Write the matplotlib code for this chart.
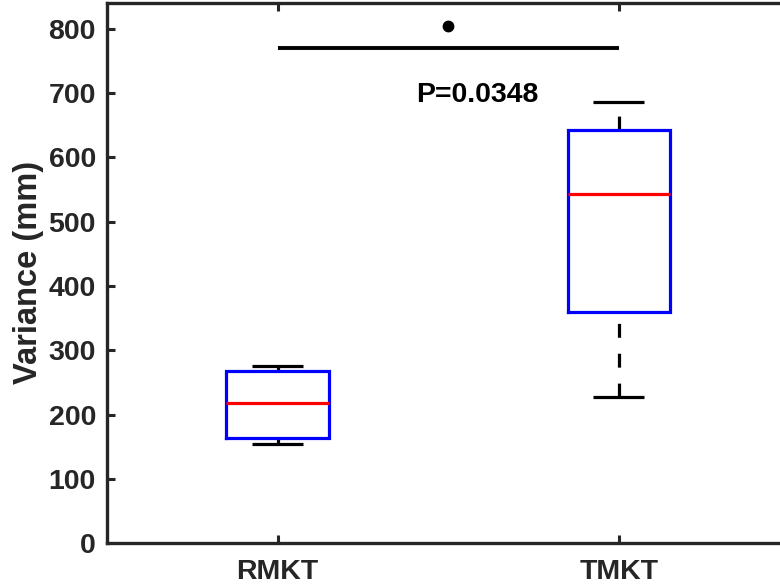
import matplotlib
matplotlib.use("Agg")
import matplotlib.pyplot as plt

plt.rcParams['font.family'] = ['Liberation Sans', 'DejaVu Sans']
plt.rcParams['font.weight'] = 'bold'
plt.rcParams['lines.scale_dashes'] = False

# ---- data ----
groups = ["RMKT", "TMKT"]
positions = [1, 2]
whisker_low = [155, 227]
q1 = [164, 359]
median = [218, 543]
q3 = [268, 642]
whisker_high = [276, 686]
ylabel = "Variance (mm)"
yticks = [0, 100, 200, 300, 400, 500, 600, 700, 800]
sig_line_y = 770
sig_dot = (1.5, 805)
p_text = "P=0.0348"
p_pos = (1.585, 697)

fig = plt.figure(figsize=(7.8, 5.88), dpi=100)
ax_left, ax_right, ax_top, ax_bottom = 107, 789.5, 3, 543.4
ax = fig.add_axes([ax_left/780, (588-ax_bottom)/588, (ax_right-ax_left)/780,
                   (ax_bottom-ax_top)/588])

axcol = '#262626'
box_w = 0.3
cap_w = 0.15
lw = 2.3
dash = (0, (10, 11.5))

for i, x in enumerate(positions):
    # whiskers (drawn from lower to upper end)
    ax.plot([x, x], [whisker_low[i], q1[i]], color='black', lw=lw, ls=dash,
            solid_capstyle='butt', dash_capstyle='butt', zorder=2)
    ax.plot([x, x], [q3[i], whisker_high[i]], color='black', lw=lw, ls=dash,
            solid_capstyle='butt', dash_capstyle='butt', zorder=2)
    # caps
    for v in (whisker_low[i], whisker_high[i]):
        ax.plot([x - cap_w/2, x + cap_w/2], [v, v], color='black', lw=lw,
                solid_capstyle='butt', zorder=3)
    # box
    bx = [x - box_w/2, x + box_w/2, x + box_w/2, x - box_w/2, x - box_w/2]
    by = [q1[i], q1[i], q3[i], q3[i], q1[i]]
    ax.plot(bx, by, color='#0000ff', lw=lw, solid_joinstyle='miter', zorder=4)
    # median
    ax.plot([x - box_w/2, x + box_w/2], [median[i], median[i]], color='#ff0000',
            lw=lw, solid_capstyle='butt', zorder=5)

# significance
ax.plot([positions[0], positions[1]], [sig_line_y, sig_line_y], color='black',
        lw=2.8, solid_capstyle='butt', zorder=3)
ax.plot([sig_dot[0]], [sig_dot[1]], 'o', color='black', ms=7.5, zorder=3)
ax.text(p_pos[0], p_pos[1], p_text, ha='center', va='center', fontsize=20.5,
        fontweight='bold', color='black')

ax.set_xlim(0.5, 2.5)
ax.set_ylim(0, 840)
ax.set_xticks(positions)
ax.set_xticklabels(groups)
ax.set_yticks(yticks)
ax.set_ylabel(ylabel, fontsize=23.5, fontweight='bold', color=axcol)
ax.yaxis.set_label_coords(-(ax_left - 44) / (ax_right - ax_left),
                          (ax_bottom - 272.5) / (ax_bottom - ax_top))

for s in ['left', 'bottom', 'top']:
    ax.spines[s].set_linewidth(2.4)
    ax.spines[s].set_color(axcol)
ax.spines['right'].set_visible(False)

ax.tick_params(axis='both', direction='in', length=6, width=2.2, colors=axcol,
               labelsize=20.5, top=True, right=False)
ax.tick_params(axis='y', pad=8)
ax.tick_params(axis='x', pad=11)
for lab in ax.get_xticklabels() + ax.get_yticklabels():
    lab.set_fontweight('bold')

fig.savefig("out.png", dpi=100, facecolor='white')
